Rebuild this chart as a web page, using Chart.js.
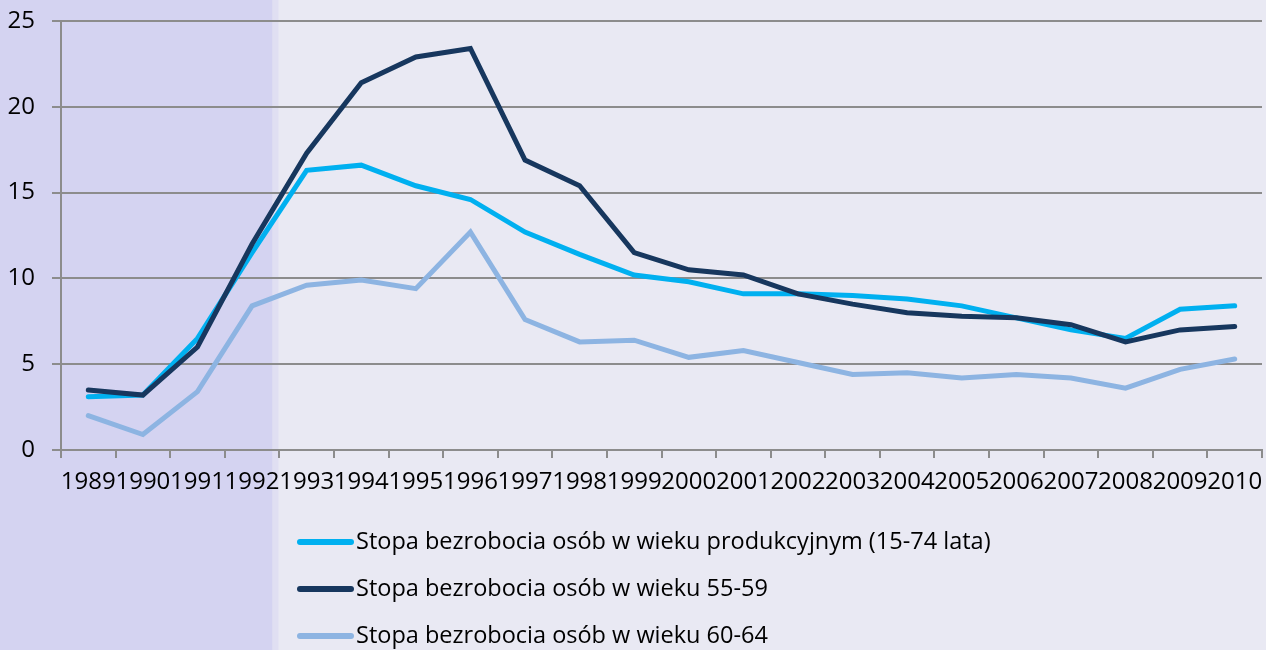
<!DOCTYPE html>
<html>
<head>
<meta charset="utf-8">
<script src="https://cdn.jsdelivr.net/npm/chart.js@4.4.1/dist/chart.umd.min.js"></script>
<style>
  html, body { margin: 0; padding: 0; background: #e9e9f3; }
  #wrap { width: 1266px; height: 650px; }
</style>
</head>
<body>
<div id="wrap"><canvas id="chart" width="1266" height="650"></canvas></div>
<script>
// Data
const years = ['1989', '1990', '1991', '1992', '1993', '1994', '1995', '1996', '1997', '1998', '1999',
  '2000', '2001', '2002', '2003', '2004', '2005', '2006', '2007', '2008', '2009', '2010'];
const rateWorkingAge = [3.1, 3.2, 6.5, 11.5, 16.3, 16.6, 15.4, 14.6, 12.7, 11.4, 10.2,
  9.8, 9.1, 9.1, 9.0, 8.8, 8.4, 7.7, 7.0, 6.5, 8.2, 8.4];
const rate5559 = [3.5, 3.2, 6.0, 12.0, 17.3, 21.4, 22.9, 23.4, 16.9, 15.4, 11.5,
  10.5, 10.2, 9.1, 8.5, 8.0, 7.8, 7.7, 7.3, 6.3, 7.0, 7.2];
const rate6064 = [2.0, 0.9, 3.4, 8.4, 9.6, 9.9, 9.4, 12.7, 7.6, 6.3, 6.4,
  5.4, 5.8, 5.1, 4.4, 4.5, 4.2, 4.4, 4.2, 3.6, 4.7, 5.3];
const seriesNames = [
  'Stopa bezrobocia osób w wieku produkcyjnym (15-74 lata)',
  'Stopa bezrobocia osób w wieku 55-59',
  'Stopa bezrobocia osób w wieku 60-64'
];
const yTicks = [0, 5, 10, 15, 20, 25];
const shadedUntil = '1992';

const gridColor = '#8c8c8c';
const font = "'Open Sans', sans-serif";

// background + shaded band for the first years
const backgroundPlugin = {
  id: 'bg',
  beforeDraw(chart) {
    const { ctx, scales: { x } } = chart;
    const i = years.indexOf(shadedUntil);
    const edge = (x.getPixelForValue(i) + x.getPixelForValue(i + 1)) / 2 - 7;
    ctx.save();
    ctx.fillStyle = '#e9e9f3';
    ctx.fillRect(0, 0, chart.width, chart.height);
    ctx.fillStyle = '#d4d3f1';
    ctx.fillRect(0, 0, edge, chart.height);
    ctx.fillStyle = 'rgba(212,211,241,0.45)';
    ctx.fillRect(edge, 0, 6, chart.height);
    ctx.restore();
  }
};

// legend stacked vertically under the chart
const legendPlugin = {
  id: 'stackLegend',
  afterDraw(chart) {
    const ctx = chart.ctx;
    ctx.save();
    ctx.font = '23.5px ' + font;
    ctx.textBaseline = 'middle';
    ctx.textAlign = 'left';
    chart.data.datasets.forEach((ds, k) => {
      const y = 542 + k * 47;
      ctx.strokeStyle = ds.borderColor;
      ctx.lineWidth = 6;
      ctx.lineCap = 'round';
      ctx.beginPath();
      ctx.moveTo(300, y);
      ctx.lineTo(351, y);
      ctx.stroke();
      ctx.fillStyle = '#000';
      ctx.fillText(ds.label, 356, y);
    });
    ctx.restore();
  }
};

new Chart(document.getElementById('chart'), {
  type: 'line',
  data: {
    labels: years,
    datasets: [
      { label: seriesNames[0], data: rateWorkingAge, borderColor: '#00b0f0', order: 3 },
      { label: seriesNames[1], data: rate5559, borderColor: '#17375e', order: 2 },
      { label: seriesNames[2], data: rate6064, borderColor: '#8db4e2', order: 1 }
    ]
  },
  options: {
    responsive: false,
    animation: false,
    layout: { padding: { top: 21, right: 4, left: 0, bottom: 150 } },
    elements: {
      line: { borderWidth: 5, tension: 0, borderCapStyle: 'round', borderJoinStyle: 'miter' },
      point: { radius: 0 }
    },
    plugins: { legend: { display: false }, tooltip: { enabled: false } },
    scales: {
      x: {
        offset: true,
        grid: { offset: true, drawOnChartArea: false, drawTicks: true, tickLength: 8, color: gridColor, lineWidth: 2 },
        border: { color: gridColor, width: 2 },
        ticks: { autoSkip: false, maxRotation: 0, minRotation: 0, padding: 10, color: '#000', font: { family: font, size: 24 } },
        afterFit(s) { s.height = 50; s.paddingLeft = 0; s.paddingRight = 0; }
      },
      y: {
        min: 0, max: 25,
        afterBuildTicks(s) { s.ticks = yTicks.map(v => ({ value: v })); },
        grid: { color: gridColor, lineWidth: 2, tickLength: 9 },
        border: { color: gridColor, width: 2 },
        ticks: { padding: 17, color: '#000', font: { family: font, size: 24 } },
        afterFit(s) { s.width = 61; s.paddingTop = 0; s.paddingBottom = 0; }
      }
    }
  },
  plugins: [backgroundPlugin, legendPlugin]
});
</script>
</body>
</html>
